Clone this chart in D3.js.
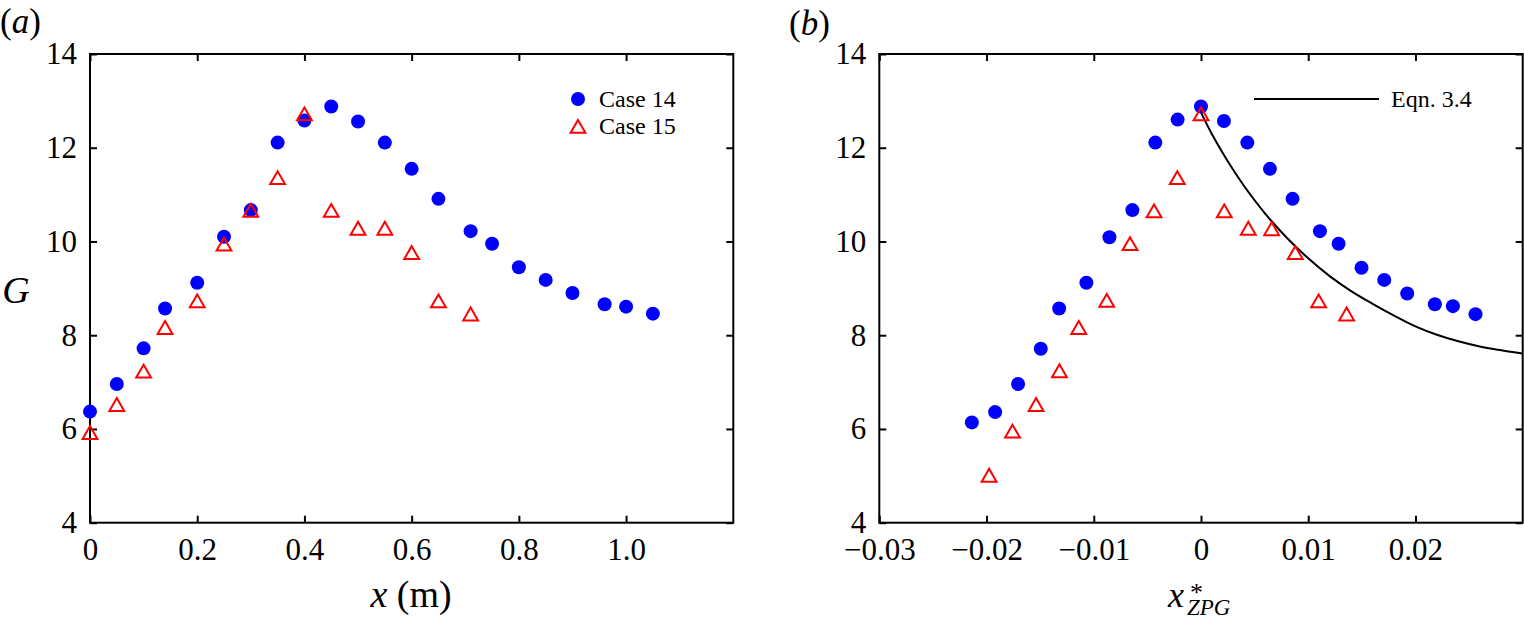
<!DOCTYPE html>
<html>
<head>
<meta charset="utf-8">
<script src="https://cdn.jsdelivr.net/npm/d3@7"></script>
<style>
  html, body { margin: 0; padding: 0; background: #fff; }
  svg { display: block; }
</style>
</head>
<body>
<svg id="chart" width="1524" height="619"></svg>
<script>
// ---------- data ----------
// Panel (a): G versus x (m)
const xA14 = [0, 0.05, 0.10, 0.14, 0.20, 0.25, 0.30, 0.35, 0.40, 0.45, 0.50, 0.55, 0.60, 0.65, 0.71, 0.75, 0.80, 0.85, 0.90, 0.96, 1.00, 1.05];
const gA14 = [6.37, 6.96, 7.72, 8.57, 9.12, 10.10, 10.67, 12.11, 12.58, 12.88, 12.56, 12.11, 11.55, 10.91, 10.22, 9.95, 9.45, 9.18, 8.90, 8.66, 8.61, 8.46];
const xA15 = [0, 0.05, 0.10, 0.14, 0.20, 0.25, 0.30, 0.35, 0.40, 0.45, 0.50, 0.55, 0.60, 0.65, 0.71];
const gA15 = [5.92, 6.52, 7.23, 8.16, 8.73, 9.94, 10.66, 11.36, 12.72, 10.66, 10.28, 10.28, 9.76, 8.73, 8.45];

// Panel (b): G versus x*_ZPG
const xB14 = [-0.02137, -0.0192, -0.01706, -0.01494, -0.01323, -0.01069, -0.00854, -0.0064, -0.00426, -0.00218, 0, 0.00214, 0.00432, 0.00643, 0.00854, 0.01109, 0.01283, 0.01497, 0.01709, 0.01923, 0.02181, 0.02349, 0.0256];
const gB14 = [6.14, 6.36, 6.96, 7.71, 8.57, 9.12, 10.09, 10.67, 12.11, 12.60, 12.88, 12.57, 12.11, 11.55, 10.91, 10.22, 9.95, 9.44, 9.18, 8.89, 8.66, 8.62, 8.45];
const xB15 = [-0.01976, -0.01758, -0.01538, -0.0132, -0.0114, -0.00879, -0.00662, -0.00438, -0.00221, 0, 0.00217, 0.00441, 0.00659, 0.00879, 0.01097, 0.01358];
const gB15 = [5.01, 5.95, 6.52, 7.24, 8.16, 8.74, 9.95, 10.65, 11.36, 12.72, 10.65, 10.28, 10.27, 9.76, 8.73, 8.45];

// Eqn. 3.4 curve
const xEqn = [0, 0.001, 0.002, 0.003, 0.004, 0.005, 0.006, 0.008, 0.010, 0.012, 0.014, 0.016, 0.018, 0.020, 0.022, 0.024, 0.026, 0.028, 0.030];
const gEqn = [12.75, 12.30, 11.90, 11.53, 11.19, 10.88, 10.59, 10.08, 9.64, 9.26, 8.94, 8.67, 8.42, 8.19, 8.01, 7.87, 7.76, 7.68, 7.61];

// ticks
const yTicks = [4, 6, 8, 10, 12, 14];
const xTicksA = [0, 0.2, 0.4, 0.6, 0.8, 1.0];
const xTickLabelsA = ["0", "0.2", "0.4", "0.6", "0.8", "1.0"];
const xTicksB = [-0.03, -0.02, -0.01, 0, 0.01, 0.02];
const xTickLabelsB = ["\u22120.03", "\u22120.02", "\u22120.01", "0", "0.01", "0.02"];

const legendA = ["Case 14", "Case 15"];
const legendB = ["Eqn. 3.4"];

// ---------- drawing ----------
const FONT = '"Liberation Serif", "Times New Roman", serif';
const svg = d3.select("#chart");
const BLUE = "#0000ff", RED = "#ff0000";
const TOP = 54, BOTTOM = 522.7;
const TRI = "M0,-6.6L7.4,6.3L-7.4,6.3Z";

function zip(xs, ys) { return xs.map((x, i) => ({x: x, y: ys[i]})); }
function txt(sel, size) {
  return sel.append("text").style("font-family", FONT).attr("font-size", size).attr("fill", "#000");
}

function panel(opt) {
  const g = svg.append("g");
  const x = d3.scaleLinear().domain(opt.xDomain).range([opt.left, opt.right]);
  const y = d3.scaleLinear().domain([4, 14]).range([BOTTOM, TOP]);

  // inward ticks on all sides
  const tl = 7;
  const fmtX = (d) => opt.xLabels[opt.xTicks.indexOf(d)];
  const axB = d3.axisBottom(x).tickValues(opt.xTicks).tickSize(-tl).tickFormat(fmtX);
  const axT = d3.axisTop(x).tickValues(opt.xTicks).tickSize(-tl).tickFormat("");
  const axL = d3.axisLeft(y).tickValues(yTicks).tickSize(-tl).tickFormat(d3.format("d")).tickPadding(13);
  const axR = d3.axisRight(y).tickValues(yTicks).tickSize(-tl).tickFormat("");

  const gb = g.append("g").attr("transform", `translate(0,${BOTTOM})`).call(axB);
  const gt = g.append("g").attr("transform", `translate(0,${TOP})`).call(axT);
  const gl = g.append("g").attr("transform", `translate(${opt.left},0)`).call(axL);
  const gr = g.append("g").attr("transform", `translate(${opt.right},0)`).call(axR);
  [gb, gt, gl, gr].forEach(a => {
    a.select(".domain").remove();
    a.selectAll(".tick line").attr("stroke", "#000").attr("stroke-width", 2);
    a.selectAll("text").style("font-family", FONT).attr("font-size", 31).attr("fill", "#000");
  });
  gb.selectAll(".tick text").attr("y", 37).attr("dy", null);

  // frame
  g.append("rect")
    .attr("x", opt.left).attr("y", TOP)
    .attr("width", opt.right - opt.left).attr("height", BOTTOM - TOP)
    .attr("fill", "none").attr("stroke", "#000").attr("stroke-width", 2);

  // curve
  if (opt.curve) {
    const line = d3.line().x(d => x(d.x)).y(d => y(d.y)).curve(d3.curveMonotoneX);
    g.append("path").datum(opt.curve).attr("d", line)
      .attr("fill", "none").attr("stroke", "#000").attr("stroke-width", 2);
  }

  // circles
  g.append("g").selectAll("circle").data(opt.s14).join("circle")
    .attr("cx", d => x(d.x)).attr("cy", d => y(d.y)).attr("r", 7).attr("fill", BLUE);

  // triangles
  g.append("g").selectAll("path").data(opt.s15).join("path")
    .attr("transform", d => `translate(${x(d.x)},${y(d.y)})`)
    .attr("d", TRI).attr("fill", "none").attr("stroke", RED).attr("stroke-width", 2);

  return {g, x, y};
}

// Panel (a)
const pa = panel({
  left: 90, right: 733.3, xDomain: [0, 1.2],
  xTicks: xTicksA, xLabels: xTickLabelsA,
  s14: zip(xA14, gA14), s15: zip(xA15, gA15)
});
// Panel (b)
const pb = panel({
  left: 879.3, right: 1522.7, xDomain: [-0.03, 0.03],
  xTicks: xTicksB, xLabels: xTickLabelsB,
  s14: zip(xB14, gB14), s15: zip(xB15, gB15),
  curve: zip(xEqn, gEqn)
});

// Panel labels
const la = txt(svg, 35).attr("x", 0).attr("y", 33);
la.append("tspan").text("(");
la.append("tspan").attr("font-style", "italic").text("a");
la.append("tspan").text(")");
const lb = txt(svg, 35).attr("x", 789).attr("y", 35);
lb.append("tspan").text("(");
lb.append("tspan").attr("font-style", "italic").text("b");
lb.append("tspan").text(")");

// Axis labels
txt(svg, 38).attr("x", 16).attr("y", 303).attr("text-anchor", "middle")
  .attr("font-style", "italic").text("G");
const xl = txt(svg, 38).attr("x", 411).attr("y", 607).attr("text-anchor", "middle");
xl.append("tspan").attr("font-style", "italic").text("x");
xl.append("tspan").text(" (m)");

const xb = txt(svg, 36).attr("x", 1168).attr("y", 607);
xb.append("tspan").attr("font-style", "italic").text("x");
xb.append("tspan").attr("x", 1190).attr("dy", -6).attr("font-size", 26).text("*");
xb.append("tspan").attr("x", 1187).attr("dy", 14).attr("font-size", 23).attr("font-style", "italic").text("ZPG");

// Legend (a)
const lgA = svg.append("g");
lgA.append("circle").attr("cx", 578).attr("cy", 99).attr("r", 7).attr("fill", BLUE);
lgA.append("path").attr("transform", "translate(578,126.5)").attr("d", TRI)
  .attr("fill", "none").attr("stroke", RED).attr("stroke-width", 2);
txt(lgA, 24).attr("x", 599).attr("y", 107).text(legendA[0]);
txt(lgA, 24).attr("x", 599).attr("y", 134).text(legendA[1]);

// Legend (b)
const lgB = svg.append("g");
lgB.append("line").attr("x1", 1254).attr("x2", 1379).attr("y1", 99).attr("y2", 99)
  .attr("stroke", "#000").attr("stroke-width", 2);
txt(lgB, 24).attr("x", 1391).attr("y", 107).text(legendB[0]);
</script>
</body>
</html>
